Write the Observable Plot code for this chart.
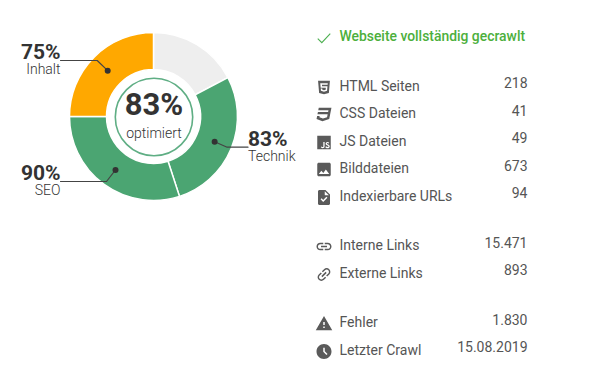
<!DOCTYPE html>
<html lang="de">
<head>
<meta charset="utf-8">
<script src="https://cdn.jsdelivr.net/npm/d3@7"></script>
<script src="https://cdn.jsdelivr.net/npm/@observablehq/plot@0.6"></script>
<style>html,body{margin:0;padding:0;background:#fff}svg{display:block}</style>
</head>
<body>
<div id="chart"></div>
<script>
// Data
const scoreNames = ["Technik", "SEO", "Inhalt"];
const scoreValues = [83, 90, 75];
const overallScore = 83;
const overallLabel = "optimiert";
const statusText = "Webseite vollständig gecrawlt";
const rowLabels = ["HTML Seiten", "CSS Dateien", "JS Dateien", "Bilddateien", "Indexierbare URLs", "Interne Links", "Externe Links", "Fehler", "Letzter Crawl"];
const rowValues = ["218", "41", "49", "673", "94", "15.471", "893", "1.830", "15.08.2019"];

// Layout and style
const W = 591, H = 378;
const cx = 153.5, cy = 116.5, rOuter = 84, rInner = 47, rRing = 38.7;
const degPerPoint = 1.2;
const colors = {Technik: "#4ba572", SEO: "#4ba572", Inhalt: "#ffa800", rest: "#eeeeee"};
const labelY = [86, 113, 141, 168, 196, 245, 273, 322, 350];
const valueY = [83, 111, 138, 166, 193, 243, 270, 320, 347];
const iconY = [87, 114, 142, 169, 197, 246, 274, 323, 351];
const font = "Roboto, sans-serif";
const icons = [
  `<path d="M12,17.56L16.07,16.43L16.62,10.33H9.38L9.2,8.3H16.8L17,6.31H7L7.56,12.32H14.45L14.22,14.9L12,15.5L9.78,14.9L9.64,13.24H7.64L7.93,16.43L12,17.56M4.07,3H19.93L18.5,19.2L12,21L5.5,19.2L4.07,3Z"/>`,
  `<path d="M5,3L4.35,6.34H17.94L17.5,8.5H3.92L3.26,11.83H16.85L16.09,15.64L10.61,17.45L5.86,15.64L6.19,14H2.85L2.06,18L9.91,21L18.96,18L20.16,11.97L20.4,10.76L21.94,3H5Z"/>`,
  `<path d="M3,3H21V21H3V3M7.73,18.04C8.13,18.89 8.92,19.59 10.27,19.59C11.77,19.59 12.8,18.79 12.8,17.04V11.26H11.1V17C11.1,17.86 10.75,18.08 10.2,18.08C9.62,18.08 9.38,17.68 9.11,17.21L7.73,18.04M13.71,17.86C14.21,18.84 15.22,19.59 16.8,19.59C18.4,19.59 19.6,18.76 19.6,17.23C19.6,15.82 18.79,15.19 17.35,14.57L16.93,14.39C16.2,14.08 15.89,13.87 15.89,13.37C15.89,12.96 16.2,12.64 16.7,12.64C17.18,12.64 17.5,12.85 17.79,13.37L19.1,12.5C18.55,11.54 17.77,11.17 16.7,11.17C15.19,11.17 14.22,12.13 14.22,13.4C14.22,14.78 15.03,15.43 16.25,15.95L16.67,16.13C17.45,16.47 17.91,16.68 17.91,17.26C17.91,17.74 17.46,18.09 16.76,18.09C15.93,18.09 15.45,17.66 15.09,17.06L13.71,17.86Z"/>`,
  `<path d="M21 19V5c0-1.1-.9-2-2-2H5c-1.1 0-2 .9-2 2v14c0 1.1.9 2 2 2h14c1.1 0 2-.9 2-2zM8.5 13.5l2.5 3.01L14.5 12l4.5 6H5l3.5-4.5z"/>`,
  `<path d="M14 2H6c-1.1 0-1.99.9-1.99 2L4 20c0 1.1.89 2 1.99 2H18c1.1 0 2-.9 2-2V8l-6-6zm-3.06 16L7.4 14.46l1.41-1.41 2.12 2.12 4.24-4.24 1.41 1.41L10.94 18zM13 9V3.5L18.5 9H13z"/>`,
  `<path d="M3.9 12c0-1.71 1.39-3.1 3.1-3.1h4V7H7c-2.76 0-5 2.24-5 5s2.24 5 5 5h4v-1.9H7c-1.71 0-3.1-1.39-3.1-3.1zM8 13h8v-2H8v2zm9-6h-4v1.9h4c1.71 0 3.1 1.39 3.1 3.1s-1.39 3.1-3.1 3.1h-4V17h4c2.76 0 5-2.24 5-5s-2.24-5-5-5z"/>`,
  `<path transform="rotate(-45 12 12)" d="M3.9 12c0-1.71 1.39-3.1 3.1-3.1h4V7H7c-2.76 0-5 2.24-5 5s2.24 5 5 5h4v-1.9H7c-1.71 0-3.1-1.39-3.1-3.1zM8 13h8v-2H8v2zm9-6h-4v1.9h4c1.71 0 3.1 1.39 3.1 3.1s-1.39 3.1-3.1 3.1h-4V17h4c2.76 0 5-2.24 5-5s-2.24-5-5-5z"/>`,
  `<path d="M1 21h22L12 2 1 21zm12-3h-2v-2h2v2zm0-4h-2v-4h2v4z"/>`,
  `<path d="M11.99 2C6.47 2 2 6.48 2 12s4.47 10 9.99 10C17.52 22 22 17.52 22 12S17.52 2 11.99 2zm3.3 14.71L11 12.41V7h2v4.59l3.71 3.71-1.42 1.41z"/>`
];
const iconUri = (body, fill = "#5a5a5a") =>
  "data:image/svg+xml," + encodeURIComponent(`<svg xmlns="http://www.w3.org/2000/svg" viewBox="0 0 24 24" fill="${fill}">${body}</svg>`);
const checkIcon = iconUri(`<path d="M2 13L8.5 19.5L22 5" fill="none" stroke="#4caf50" stroke-width="1.8"/>`);

// Segments: each score fills a 120 degree share; what is left stays grey
const covered = d3.sum(scoreValues) * degPerPoint;
const restSpan = 360 - covered;
let angle = restSpan;
const segments = [{name: "rest", a0: 0, a1: restSpan}];
scoreNames.forEach((name, i) => {
  const a1 = angle + scoreValues[i] * degPerPoint;
  segments.push({name, value: scoreValues[i], a0: angle, a1});
  angle = a1;
});

// Leader lines follow from each segment's middle
const rMid = (rOuter + rInner) / 2;
const leaderLayout = {
  Technik: {kneeDx: 12.5, endX: 247.5, lineY: 146.7, pctY: 139, nameY: 156, anchor: "start", tx: 247.5},
  SEO: {kneeDx: -9, endX: 60, lineY: 181, pctY: 173, nameY: 190, anchor: "end", tx: 60},
  Inhalt: {kneeDx: -10.5, endX: 60, lineY: 60, pctY: 52, nameY: 69, anchor: "end", tx: 60}
};
const scored = segments.filter(d => d.name !== "rest").map(d => {
  const m = ((d.a0 + d.a1) / 2) * Math.PI / 180;
  return {...d, ...leaderLayout[d.name], dotX: cx + rMid * Math.sin(m), dotY: cy - rMid * Math.cos(m)};
});
const leaderPts = scored.flatMap(d => [
  {name: d.name, x: d.dotX, y: d.dotY},
  {name: d.name, x: d.dotX + d.kneeDx, y: d.lineY},
  {name: d.name, x: d.endX, y: d.lineY}
]);
const scoredStart = scored.filter(d => d.anchor === "start");
const scoredEnd = scored.filter(d => d.anchor === "end");

const rows = rowLabels.map((label, i) => ({label, value: rowValues[i], icon: iconUri(icons[i]), ly: labelY[i], vy: valueY[i], iy: iconY[i]}));

const donut = (index, {x, y}) => {
  const g = d3.create("svg:g").attr("transform", `translate(${x(cx)},${y(cy)})`);
  const arc = d3.arc().innerRadius(rInner).outerRadius(rOuter);
  g.selectAll("path").data(segments).join("path")
    .attr("d", d => arc({startAngle: d.a0 * Math.PI / 180, endAngle: d.a1 * Math.PI / 180}))
    .attr("fill", d => colors[d.name])
    .attr("stroke", "#fff")
    .attr("stroke-width", 1.5);
  return g.node();
};

const scoreLabels = (data, anchor) => [
  Plot.text(data, {x: "tx", y: "pctY", text: d => d.value + "%", textAnchor: anchor, fontSize: 21, fontWeight: 700, fill: "#333333"}),
  Plot.text(data, {x: "tx", y: "nameY", text: "name", textAnchor: anchor, fontSize: 14, fontWeight: 300, fill: "#333333"})
];

const chart = Plot.plot({
  width: W, height: H, margin: 0,
  style: {background: "#fff", fontFamily: font},
  x: {domain: [0, W], range: [0, W], axis: null},
  y: {domain: [0, H], range: [0, H], axis: null},
  marks: [
    donut,
    Plot.dot([0], {x: () => cx, y: () => cy, r: rRing, stroke: "#5fae84", strokeWidth: 1.6, fill: "none"}),
    Plot.text([overallScore + "%"], {x: () => cx, y: () => 105, text: d => d, fontSize: 31, fontWeight: 700, fill: "#333333"}),
    Plot.text([overallLabel], {x: () => cx, y: () => 133, text: d => d, fontSize: 14, fontWeight: 300, fill: "#333333"}),
    Plot.line(leaderPts, {x: "x", y: "y", z: "name", stroke: "#444444", strokeWidth: 1.2, curve: "linear"}),
    Plot.dot(scored, {x: "dotX", y: "dotY", r: 3, fill: "#333333"}),
    ...scoreLabels(scoredStart, "start"),
    ...scoreLabels(scoredEnd, "end"),
    Plot.image([checkIcon], {x: () => 323.5, y: () => 37.5, src: d => d, width: 15, height: 15}),
    Plot.text([statusText], {x: () => 339, y: () => 36, text: d => d, textAnchor: "start", fontSize: 13.9, fontWeight: 500, fill: "#4caf3c"}),
    Plot.image(rows, {x: () => 323.5, y: "iy", src: "icon", width: 18, height: 18}),
    Plot.text(rows, {x: () => 339, y: "ly", text: "label", textAnchor: "start", fontSize: 14, fill: "#555555"}),
    Plot.text(rows, {x: () => 527, y: "vy", text: "value", textAnchor: "end", fontSize: 14, fill: "#555555"})
  ]
});
document.getElementById("chart").append(chart);
</script>
</body>
</html>
